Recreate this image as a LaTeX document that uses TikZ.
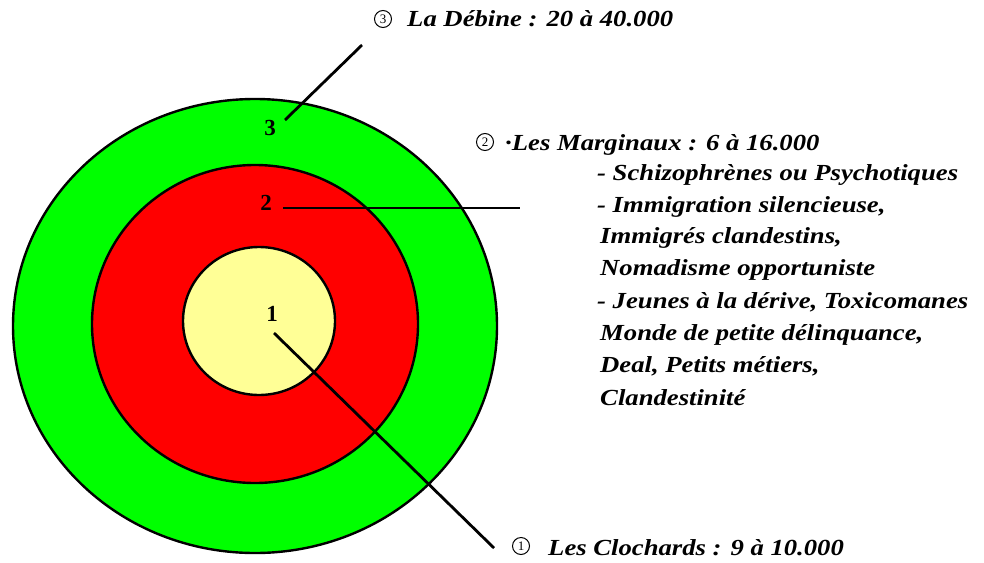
\documentclass[tikz,border=0pt]{standalone}
\usepackage{fontspec}
\setmainfont{Liberation Serif}
\newfontfamily\lblfont{Liberation Serif}[FakeStretch=1.16]
\definecolor{ringgreen}{RGB}{0,255,0}
\definecolor{ringred}{RGB}{255,0,0}
\definecolor{ringyellow}{RGB}{255,255,150}
\begin{document}
\begin{tikzpicture}[x=1pt,y=-1pt,
  ring/.style={draw=black,line width=2.4pt},
  lbl/.style={anchor=base west,inner sep=0pt,font=\fontsize{23}{23}\selectfont\lblfont\bfseries\itshape},
  circnum/.style={circle,draw=black,line width=1pt,minimum size=17pt,inner sep=0pt,font=\fontsize{13}{13}\selectfont},
  num/.style={inner sep=0pt,font=\fontsize{23}{23}\selectfont\bfseries},
  lead/.style={draw=black,line width=2.8pt},
  leadthin/.style={draw=black,line width=1.8pt}]
\useasboundingbox (0,0) rectangle (984,562);
% rings
\fill[ringgreen] (255,326) ellipse [x radius=242, y radius=227];
\draw[ring] (255,326) ellipse [x radius=242, y radius=227];
\fill[ringred] (255,324) ellipse [x radius=163, y radius=159];
\draw[ring] (255,324) ellipse [x radius=163, y radius=159];
\fill[ringyellow] (259,321) ellipse [x radius=76, y radius=74];
\draw[ring] (259,321) ellipse [x radius=76, y radius=74];
% ring numbers
\node[num] (n3) at (270,128) {3};
\node[num] (n2) at (266,203) {2};
\node[num] (n1) at (272,314) {1};
% headers
\node[circnum] (c3) at (383,19) {3};
\node[lbl] (h3) at (407,26) {La Débine : 20 à 40.000};
\node[circnum] (c2) at (485,142) {2};
\node[lbl] (h2) at (505,150) {·Les Marginaux : 6 à 16.000};
\node[circnum] (c1) at (521,546) {1};
\node[lbl] (h1) at (548,555) {Les Clochards : 9 à 10.000};
% list
\node[lbl] (l1) at (597,180) {- Schizophrènes ou Psychotiques};
\node[lbl] (l2) at (597,212) {- Immigration silencieuse,};
\node[lbl] (l3) at (600,243) {Immigrés clandestins,};
\node[lbl] (l4) at (600,275) {Nomadisme opportuniste};
\node[lbl] (l5) at (597,308) {- Jeunes à la dérive, Toxicomanes};
\node[lbl] (l6) at (600,340) {Monde de petite délinquance,};
\node[lbl] (l7) at (600,372) {Deal, Petits métiers,};
\node[lbl] (l8) at (600,405) {Clandestinité};
% leaders
\coordinate (a3) at (285,120);
\coordinate (b3) at (362,45);
\coordinate (a2) at (283,208);
\coordinate (b2) at (520,208);
\coordinate (a1) at (274,333);
\coordinate (b1) at (494,548);
\draw[lead] (a3) -- (b3);
\draw[leadthin] (a2) -- (b2);
\draw[lead] (a1) -- (b1);
\end{tikzpicture}
\end{document}
